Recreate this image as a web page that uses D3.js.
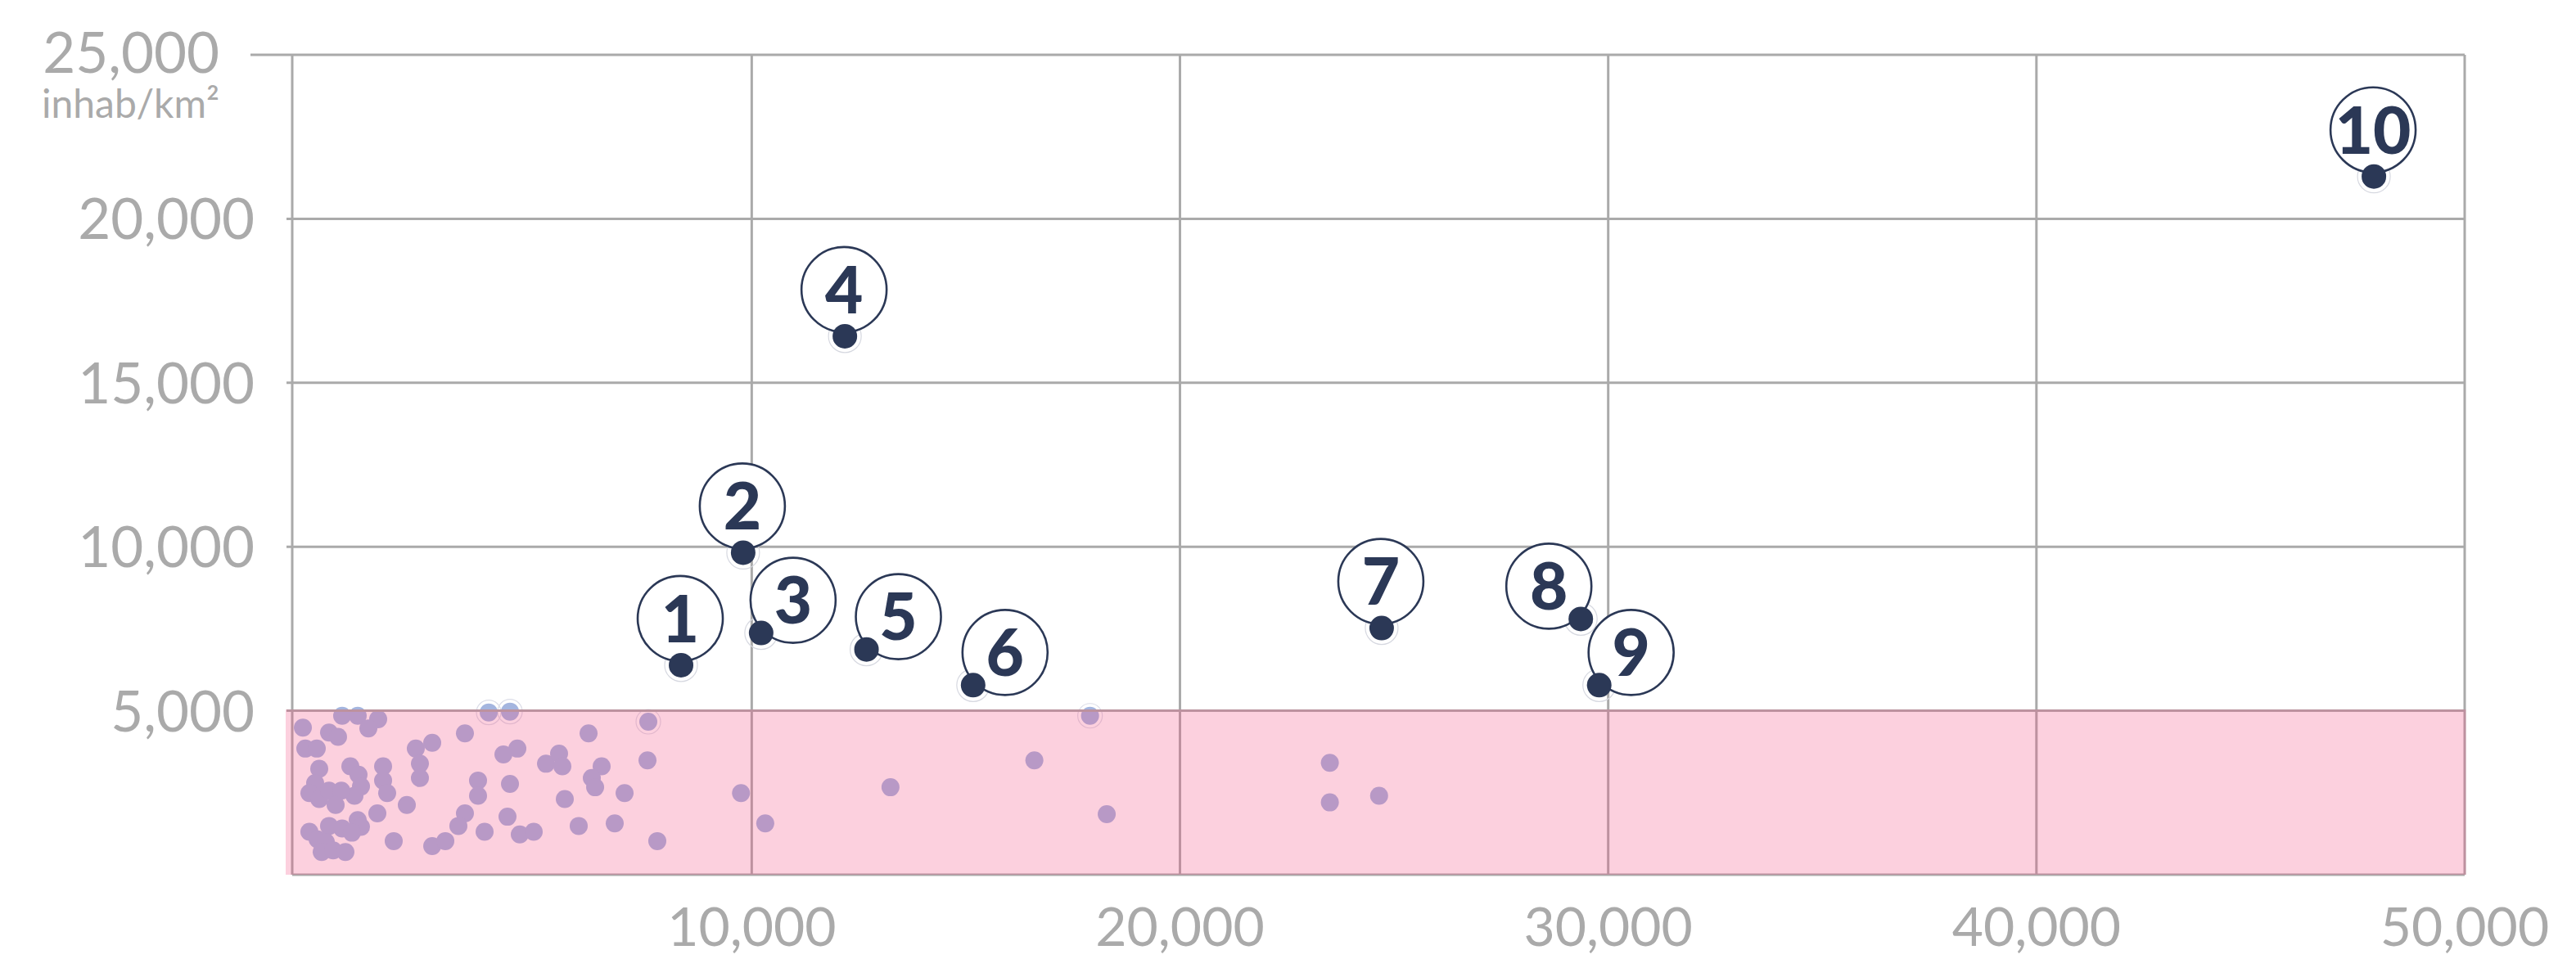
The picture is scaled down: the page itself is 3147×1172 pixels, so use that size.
<!DOCTYPE html>
<html>
<head>
<meta charset="utf-8">
<script src="https://cdn.jsdelivr.net/npm/d3@7"></script>
<style>
  html, body { margin: 0; padding: 0; background: #ffffff; }
  svg { display: block; }
</style>
</head>
<body>
<svg id="chart" width="3147" height="1172"></svg>
<script>
// ---------- DATA ----------
const xTicks = [10000, 20000, 30000, 40000, 50000];
const yTicks = [5000, 10000, 15000, 20000, 25000];
const yUnit = "inhab/km²";

// highlighted (numbered) points
const hlLabels = [1, 2, 3, 4, 5, 6, 7, 8, 9, 10];
const hlX = [8350, 9800, 10220, 12175, 12680, 15170, 24710, 29360, 29790, 47880];
const hlY = [6390, 9820, 7370, 16420, 6870, 5780, 7520, 7800, 5780, 21290];
const hlSide = ["up", "up", "right", "up", "right", "right", "up", "left", "right", "up"];

// other points (below 5,000 inhab/km²)
const ptX = [436, 799, 1277, 1048, -481, 130, 340, -424, -157, 3858, 4355, 3303, 2156, 2539, 2252, 2252,
  4527, 4202, 5196, 5501, 5578, -99, 627, 818, 1392, 1392, 1487, 876, 723, -195, -329, -99, 130, 417,
  283, 1946, 1258, 3609, 3609, 4355, 5635, 3303, 3150, 4297, 3762, 4584, 4909, -329, 130, 436, 799,
  876, 665, -137, 54, -42, 226, 512, 1640, 2539, 2845, 7585, 6190, 6495, 6266, 6343, 7031, 7566,
  5960, 6801, 7795, 9750, 10316, 17900, 16600, 13240, 18290, 23500, 23500, 24650];
const ptY = [4846, 4846, 4743, 4461, 4487, 4333, 4205, 3846, 3846, 4949, 4974, 4308, 3846, 4025, 3384, 2949,
  3846, 3667, 3384, 3692, 3308, 3231, 3308, 3051, 3308, 2872, 2487, 2692, 2410, 2795, 2487, 2308, 2564, 2564,
  2128, 2128, 1872, 2872, 2410, 2769, 2308, 1872, 1487, 1769, 1308, 1231, 1308, 1308, 1487, 1410, 1667,
  1461, 1282, 1077, 1000, 692, 744, 692, 1026, 872, 1026, 4666, 4308, 3308, 2949, 2667, 2487, 3487,
  1487, 1564, 1026, 2487, 1564, 4846, 3487, 2667, 1846, 3410, 2205, 2410];
const ptHalo = [9, 10, 61, 73]; // indices of points drawn with a light ring

// ---------- STYLE ----------
const W = 3147, H = 1172;
const gridColor = "#aaaaaa";
const textColor = "#aaaaaa";
const navy = "#2b3856";
const dotColor = "#a4b5df";
const fmt = d3.format(",");

const svg = d3.select("#chart");
svg.append("rect").attr("width", W).attr("height", H).attr("fill", "#ffffff");

const x = d3.scaleLinear().domain([-730, 50000]).range([357, 3011]);
const y = d3.scaleLinear().domain([0, 25000]).range([1069, 67]);

const xL = x.range()[0], xR = x.range()[1];
const yB = y(0), yT = y(25000);

// ---------- LIGHT POINTS (under the pink band) ----------
const pts = ptX.map((v, i) => ({ x: v, y: ptY[i], halo: ptHalo.includes(i) }));
const gPts = svg.append("g");
gPts.selectAll("circle.halo").data(pts.filter(d => d.halo)).join("circle")
  .attr("class", "halo")
  .attr("cx", d => x(d.x)).attr("cy", d => y(d.y)).attr("r", 15)
  .attr("fill", "none").attr("stroke", "#dcdde8").attr("stroke-width", 1.2);
gPts.selectAll("circle.pt").data(pts).join("circle")
  .attr("class", "pt")
  .attr("cx", d => x(d.x)).attr("cy", d => y(d.y)).attr("r", 11)
  .attr("fill", dotColor);

// ---------- GRID ----------
const gGrid = svg.append("g");
gGrid.selectAll("line.h").data(yTicks).join("line")
  .attr("x1", d => d === 25000 ? 306 : 350).attr("x2", xR)
  .attr("y1", d => y(d)).attr("y2", d => y(d))
  .attr("stroke", gridColor).attr("stroke-width", 3);
gGrid.append("line").attr("x1", xL).attr("x2", xR).attr("y1", yB).attr("y2", yB)
  .attr("stroke", gridColor).attr("stroke-width", 3);
gGrid.selectAll("line.v").data(xTicks).join("line")
  .attr("x1", d => x(d)).attr("x2", d => x(d))
  .attr("y1", yT).attr("y2", yB)
  .attr("stroke", gridColor).attr("stroke-width", 3);
gGrid.append("line").attr("x1", xL).attr("x2", xL).attr("y1", yT).attr("y2", yB)
  .attr("stroke", gridColor).attr("stroke-width", 3);

// ---------- PINK BAND (translucent overlay) ----------
svg.append("rect")
  .attr("x", 349).attr("y", y(5000) - 1.5)
  .attr("width", xR + 1.5 - 349).attr("height", yB - y(5000) + 1.5)
  .attr("fill", "#f34a80").attr("fill-opacity", 0.26);

// ---------- AXIS LABELS ----------
const gTxt = svg.append("g").attr("font-family", "Lato, 'Open Sans', sans-serif").attr("fill", textColor);
gTxt.selectAll("text.y").data(yTicks.filter(d => d !== 25000)).join("text")
  .attr("x", 311).attr("y", d => y(d) + 25)
  .attr("text-anchor", "end").attr("font-size", 69)
  .text(d => fmt(d));
gTxt.append("text").attr("x", 268).attr("y", y(25000) + 22)
  .attr("text-anchor", "end").attr("font-size", 69).text(fmt(25000));
gTxt.append("text").attr("x", 268).attr("y", 144)
  .attr("text-anchor", "end").attr("font-size", 48).text(yUnit);
gTxt.selectAll("text.x").data(xTicks).join("text")
  .attr("x", d => x(d)).attr("y", 1156)
  .attr("text-anchor", "middle").attr("font-size", 66)
  .text(d => fmt(d));

// ---------- HIGHLIGHTED POINTS ----------
const off = { up: [-1, -57], right: [39, -40], left: [-39, -40] };
const hl = hlX.map((v, i) => ({ x: v, y: hlY[i], label: hlLabels[i], side: hlSide[i] }));
const gHl = svg.append("g");
gHl.selectAll("circle.ring").data(hl).join("circle")
  .attr("cx", d => x(d.x)).attr("cy", d => y(d.y)).attr("r", 20)
  .attr("fill", "none").attr("stroke", "#d6d8e0").attr("stroke-width", 1.2);
const lab = gHl.selectAll("g.lab").data(hl).join("g")
  .attr("transform", d => `translate(${x(d.x) + off[d.side][0]},${y(d.y) + off[d.side][1]})`);
lab.append("circle").attr("r", 52).attr("fill", "#ffffff")
  .attr("stroke", navy).attr("stroke-width", 2.6);
lab.append("text").attr("text-anchor", "middle").attr("dy", "0.36em")
  .attr("font-family", "Lato, 'Open Sans', sans-serif").attr("font-weight", 900)
  .attr("font-size", 80).attr("fill", navy)
  .text(d => d.label);
gHl.selectAll("circle.dot").data(hl).join("circle")
  .attr("class", "dot")
  .attr("cx", d => x(d.x)).attr("cy", d => y(d.y)).attr("r", 15)
  .attr("fill", navy);
</script>
</body>
</html>
